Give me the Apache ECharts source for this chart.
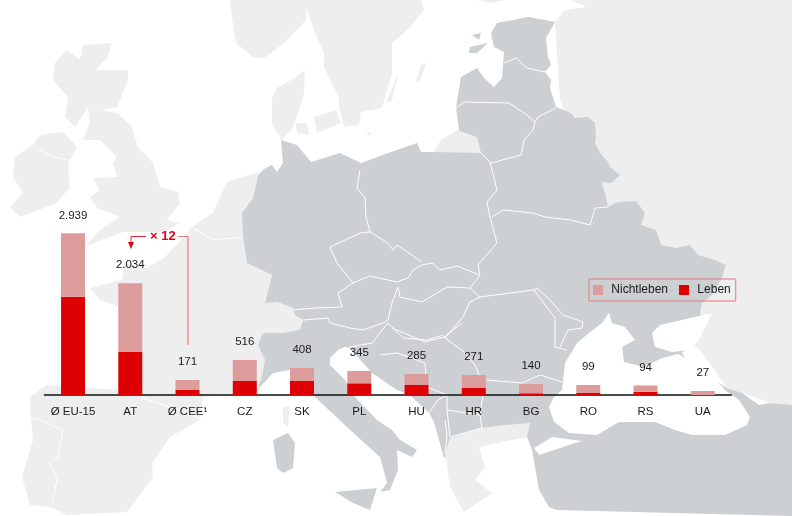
<!DOCTYPE html>
<html><head><meta charset="utf-8">
<style>html,body{margin:0;padding:0;background:#fff}#c{width:792px;height:516px}</style>
<script src="https://cdn.jsdelivr.net/npm/echarts@6/dist/echarts.min.js"></script>
</head><body><div id="c"></div>
<script>
const categories=['Ø EU-15','AT','Ø CEE¹','CZ','SK','PL','HU','HR','BG','RO','RS','UA'];
const totalLabels=['2.939','2.034','171','516','408','345','285','271','140','99','94','27'];
const leben=[1787,782,91,255,255,213,182,127,31,36,60,0];
const nichtleben=[1152,1252,182,381,236,223,200,237,169,146,113,73];
const seriesNames=['Nichtleben','Leben'];

/* Background map outlines (page pixels) */
const DARK='#ccd0d3',LIGHT='#eeeeee',SEA='#ffffff';
const russia=[[571,0],[792,0],[792,410],[727,388],[700,350],[640,300],[560,100],[555,22],[565,10],[586,7]];
const scandinavia=[[230,0],[233,25],[236,43],[253,57],[264,58],[284,43],[306,20],[306,8],[316,35],[324,53],[324,67],[339,98],[339,107],[344,127],[359,125],[361,112],[382,108],[392,73],[392,43],[407,30],[424,10],[421,0]];
const finlandBit=[[477,0],[490,3],[505,0]];
const ireland=[[15,157],[33,145],[40,135],[63,132],[77,147],[68,163],[70,187],[57,203],[20,217],[10,207],[23,193],[13,177]];
const britain=[[83,45],[112,43],[107,58],[95,70],[128,70],[128,80],[117,107],[102,110],[117,113],[132,127],[138,147],[153,163],[160,187],[178,192],[180,203],[167,220],[180,223],[163,232],[123,232],[107,238],[85,247],[100,230],[120,217],[97,208],[90,197],[100,190],[93,178],[117,177],[113,163],[117,157],[107,147],[100,140],[83,140],[90,123],[88,107],[75,127],[65,117],[68,97],[53,80],[55,63],[67,50],[80,60]];
const westEurope=[[258,172],[227,182],[213,213],[192,227],[185,236],[165,257],[147,268],[130,265],[125,262],[122,280],[90,288],[100,300],[120,307],[125,340],[130,385],[120,390],[47,385],[30,397],[30,410],[33,440],[22,477],[30,505],[50,507],[67,515],[127,512],[153,477],[152,463],[170,437],[200,420],[203,397],[257,392],[262,375],[265,360],[258,345],[262,335],[293,308],[277,302],[265,303],[272,275],[247,263],[243,237],[242,213],[253,198]];
const switzerland=[[247,330],[253,308],[277,302],[293,308],[295,315],[303,320],[300,330],[283,333],[260,333]];
const mainland=[[258,175],[264,169],[272,165],[277,172],[283,163],[281,140],[297,145],[311,162],[340,153],[361,163],[391,152],[417,143],[421,152],[434,152],[459,130],[456,107],[461,77],[477,68],[484,78],[494,87],[502,78],[504,52],[494,47],[491,33],[497,23],[528,17],[555,22],[546,38],[548,57],[551,65],[545,72],[551,80],[550,88],[556,107],[571,113],[575,118],[588,117],[595,123],[596,137],[595,143],[600,153],[608,162],[610,167],[620,175],[611,183],[601,182],[605,193],[608,207],[618,202],[636,201],[645,213],[641,225],[656,230],[661,245],[676,248],[690,245],[698,255],[715,260],[726,265],[721,280],[712,295],[702,303],[700,312],[704,330],[682,353],[690,365],[727,388],[742,393],[759,405],[769,403],[792,405],[792,516],[557,510],[549,507],[539,490],[532,450],[527,437],[495,440],[444,458],[434,422],[429,413],[410,395],[397,390],[372,373],[350,348],[345,347],[338,350],[330,358],[330,365],[345,380],[353,395],[377,420],[392,430],[400,440],[417,450],[412,457],[397,450],[398,470],[390,490],[380,492],[387,483],[380,457],[370,448],[347,427],[315,397],[303,383],[290,370],[273,373],[260,387],[257,392],[262,375],[265,360],[258,345],[262,335],[293,308],[277,302],[265,303],[272,275],[247,263],[243,237],[242,213],[253,198]];
const blackSea=[[549,407],[554,397],[562,390],[565,363],[577,343],[589,333],[602,323],[609,313],[612,323],[625,327],[635,340],[622,347],[624,362],[644,367],[662,358],[678,354],[685,358],[709,372],[725,390],[739,400],[750,417],[747,425],[725,435],[692,435],[675,430],[655,422],[619,422],[597,435],[569,433],[554,422]];
const azov=[[652,333],[660,325],[712,313],[699,340],[689,350],[672,352],[655,347]];
const marmara=[[534,448],[552,437],[582,441],[569,445],[539,455]];
const kaliningrad=[[434,152],[441,140],[457,130],[477,137],[481,153]];
const greece=[[445,453],[450,438],[482,428],[505,425],[530,423],[527,437],[502,442],[479,447],[485,467],[475,480],[492,493],[464,512],[450,487]];
const sardinia=[[273,440],[288,433],[295,443],[293,468],[283,473],[277,468]];
const sicily=[[335,492],[377,488],[370,510],[353,503]];
const corsica=[[283,407],[290,407],[288,427],[283,423]];
const jutland=[[272,98],[277,88],[296,77],[305,70],[304,93],[300,107],[293,127],[282,140],[272,125]];
const zealand=[[314,117],[336,110],[341,123],[317,133]];
const funen=[[296,123],[307,123],[309,135],[297,133]];
const gotland=[[416,83],[421,65],[427,63],[419,82]];
const oland=[[386,103],[399,72],[392,100]];
const bornholm=[[366,131],[371,133],[370,137]];
const saaremaa=[[470,47],[488,43],[477,53],[469,53]];
const hiiumaa=[[472,35],[481,33],[479,40]];
const borders=[
 [[360,170],[357,188],[365,198],[366,217],[370,232]],
 [[370,232],[360,233],[330,247],[337,263],[353,283]],
 [[353,283],[338,293],[342,307],[315,308],[293,310]],
 [[353,283],[370,276],[397,282]],
 [[370,232],[388,243],[393,250],[397,245],[422,262]],
 [[422,265],[413,270],[408,278],[397,282]],
 [[422,265],[432,263],[440,270],[457,266],[480,275]],
 [[398,287],[400,297],[422,302],[447,287],[470,288],[480,275]],
 [[398,287],[392,303],[388,320]],
 [[303,320],[328,318],[330,323],[350,328],[363,330],[383,323],[388,320]],
 [[388,323],[403,338],[427,340],[443,335]],
 [[445,338],[463,317],[470,302],[480,297],[533,290]],
 [[470,288],[480,297]],
 [[480,275],[478,265],[497,243],[490,217],[487,202],[497,190],[490,162],[480,152]],
 [[492,217],[503,210],[533,213],[545,217],[571,220],[590,225],[595,208],[608,207]],
 [[491,163],[521,155],[524,140],[533,130],[535,122],[538,117],[556,108]],
 [[456,108],[464,102],[509,103],[527,115],[535,122]],
 [[504,63],[516,58],[527,68],[545,72]],
 [[534,290],[537,288],[550,300],[563,315],[583,322],[582,328],[568,330],[560,347]],
 [[533,290],[534,290],[555,318],[555,347],[567,350]],
 [[487,380],[522,383],[540,375],[562,382]],
 [[392,328],[425,342],[444,337],[462,323]],
 [[444,337],[464,352],[475,365],[480,377],[484,387],[480,415],[482,428]],
 [[482,428],[450,437],[447,410],[480,415]],
 [[380,355],[397,353],[425,363],[427,387],[447,395],[447,410]],
 [[372,343],[350,347]],
 [[372,343],[388,323]],
 [[429,413],[438,400],[447,395]],
 [[445,420],[447,437],[445,453]],
 [[192,227],[213,240],[242,237]],
 [[30,418],[40,420],[63,430],[58,457],[50,462],[57,480],[52,503]],
 [[40,150],[53,157],[68,160]],
 [[125,392],[155,402],[200,418]]
];
const shapes=[[russia,LIGHT],[scandinavia,LIGHT],[finlandBit,LIGHT],[ireland,LIGHT],[britain,LIGHT],[westEurope,LIGHT],[mainland,DARK],[switzerland,LIGHT],[kaliningrad,LIGHT],[blackSea,SEA],[azov,SEA],[marmara,SEA],[greece,LIGHT],[sardinia,DARK],[sicily,DARK],[corsica,LIGHT],[jutland,LIGHT],[zealand,LIGHT],[funen,LIGHT],[gotland,LIGHT],[oland,LIGHT],[bornholm,LIGHT],[saaremaa,DARK],[hiiumaa,DARK]];

const mapGraphics=shapes.map(s=>({type:'polygon',silent:true,z:-20,shape:{points:s[0]},style:{fill:s[1]}}))
 .concat(borders.map(b=>({type:'polyline',silent:true,z:-10,shape:{points:b},style:{stroke:'#ffffff',lineWidth:1,fill:null}})));

const TXT='#1a1a1a',FONT='"Liberation Sans",Arial,sans-serif';
const annotation=[
 {type:'polyline',z:50,silent:true,shape:{points:[[178,236.5],[188,236.5],[188,345]]},style:{stroke:'#e77f7f',lineWidth:1.2,fill:null}},
 {type:'polyline',z:50,silent:true,shape:{points:[[146,236.5],[131,236.5],[131,243]]},style:{stroke:'#e4283a',lineWidth:1,fill:null}},
 {type:'polygon',z:50,silent:true,shape:{points:[[128,242],[134,242],[131,249]]},style:{fill:'#dd0011'}},
 {type:'text',z:50,silent:true,x:150,y:230,style:{text:'× 12',fill:'#e0001b',font:'bold 13px '+FONT}}
];
const chart=echarts.init(document.getElementById('c'),null,{renderer:'canvas'});
chart.setOption({
 animation:false,backgroundColor:'#ffffff',
 grid:{left:44.4,width:687,top:175,height:220,containLabel:false},
 legend:{left:589,top:279,data:seriesNames,orient:'horizontal',itemWidth:10,itemHeight:10,itemGap:11,padding:[5,5,5,4],
  borderColor:'#e07b7f',borderWidth:1,borderRadius:0,backgroundColor:'transparent',icon:'rect',
  formatter:n=>' '+n,
  textStyle:{color:TXT,fontSize:12,fontFamily:FONT}},
 xAxis:{type:'category',data:categories,axisLine:{lineStyle:{color:'#111',width:1.5}},axisTick:{show:false},
  axisLabel:{color:TXT,fontSize:11.5,fontFamily:FONT,margin:11,interval:0}},
 yAxis:{type:'value',min:0,max:4000,show:false,splitLine:{show:false}},
 series:[
  {name:'Leben',type:'bar',stack:'t',barWidth:24,data:leben,itemStyle:{color:'#dd0005'}},
  {name:'Nichtleben',type:'bar',stack:'t',barWidth:24,data:nichtleben,itemStyle:{color:'#dd9c9c'},
   label:{show:true,position:'top',distance:12,color:TXT,fontSize:11.5,fontFamily:FONT,formatter:p=>totalLabels[p.dataIndex]}}
 ],
 graphic:{elements:mapGraphics.concat(annotation)}
});
</script></body></html>
